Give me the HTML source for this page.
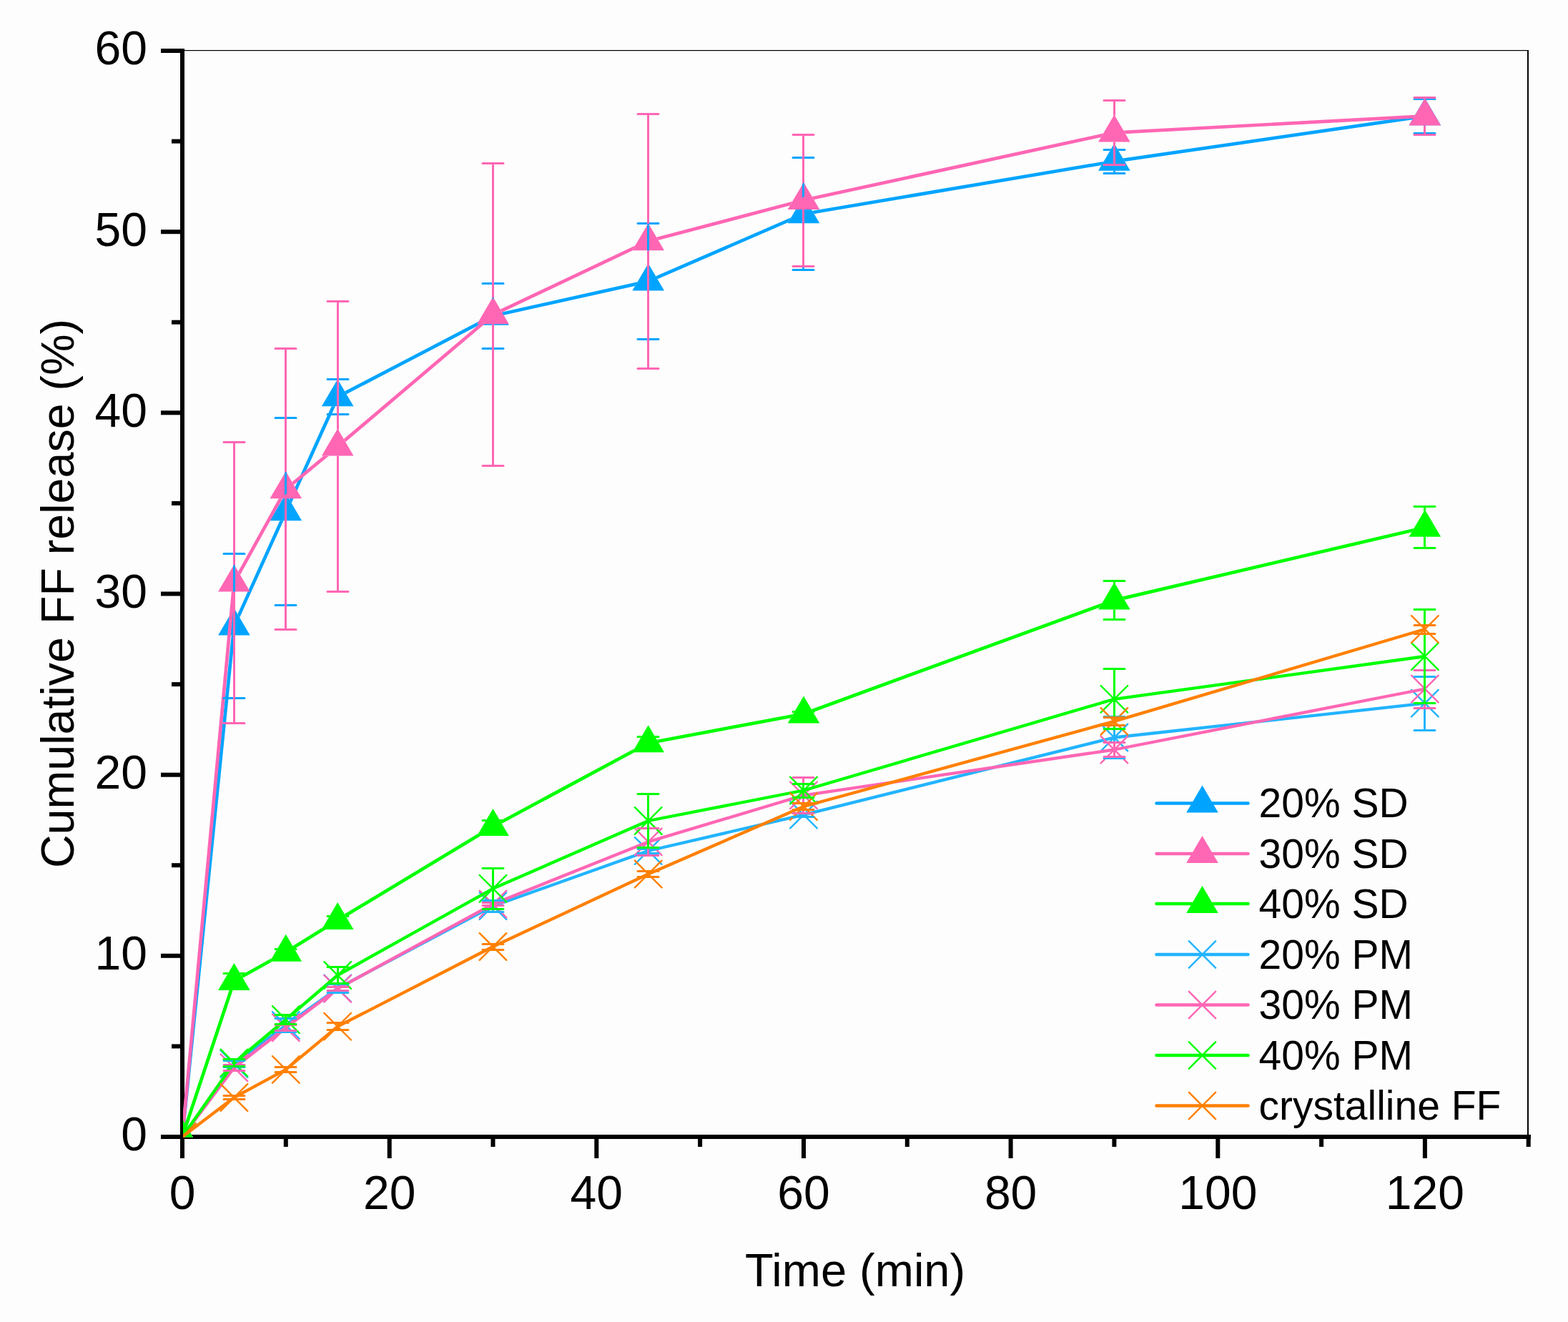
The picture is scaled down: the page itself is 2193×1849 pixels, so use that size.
<!DOCTYPE html>
<html><head><meta charset="utf-8"><title>Cumulative FF release</title>
<style>html,body{margin:0;padding:0;background:#fdfdfd;}svg{display:block}
text{font-family:"Liberation Sans",Arial,sans-serif;fill:#000}</style></head>
<body><svg width="2193" height="1849" viewBox="0 0 2193 1849">
<rect x="0" y="0" width="2193" height="1849" fill="#fdfdfd"/>
<defs><clipPath id="pa"><rect x="256" y="71" width="1880" height="1519.8"/></clipPath>
<mask id="m0" maskUnits="userSpaceOnUse" x="0" y="0" width="2193" height="1849"><rect x="0" y="0" width="2193" height="1849" fill="#fff"/><polygon points="327.4,850.4 349.7,888.4 305.1,888.4" fill="#000"/><polygon points="399.8,690.2 422.1,728.2 377.5,728.2" fill="#000"/><polygon points="472.2,530.2 494.5,568.2 449.9,568.2" fill="#000"/><polygon points="689.5,416.8 711.8,454.8 667.2,454.8" fill="#000"/><polygon points="906.7,368.4 929.0,406.4 884.4,406.4" fill="#000"/><polygon points="1124.0,274.2 1146.3,312.2 1101.7,312.2" fill="#000"/><polygon points="1558.4,200.7 1580.7,238.7 1536.1,238.7" fill="#000"/><polygon points="1992.9,137.3 2015.2,175.3 1970.6,175.3" fill="#000"/><polygon points="255.0,1565.0 277.3,1603.0 232.7,1603.0" fill="#000"/></mask>
<mask id="m1" maskUnits="userSpaceOnUse" x="0" y="0" width="2193" height="1849"><rect x="0" y="0" width="2193" height="1849" fill="#fff"/><polygon points="327.4,789.6 349.7,827.6 305.1,827.6" fill="#000"/><polygon points="399.8,659.2 422.1,697.2 377.5,697.2" fill="#000"/><polygon points="472.2,599.4 494.5,637.4 449.9,637.4" fill="#000"/><polygon points="689.5,415.2 711.8,453.2 667.2,453.2" fill="#000"/><polygon points="906.7,312.3 929.0,350.3 884.4,350.3" fill="#000"/><polygon points="1124.0,255.0 1146.3,293.0 1101.7,293.0" fill="#000"/><polygon points="1558.4,160.6 1580.7,198.6 1536.1,198.6" fill="#000"/><polygon points="1992.9,137.4 2015.2,175.4 1970.6,175.4" fill="#000"/><polygon points="255.0,1565.0 277.3,1603.0 232.7,1603.0" fill="#000"/></mask>
<mask id="m2" maskUnits="userSpaceOnUse" x="0" y="0" width="2193" height="1849"><rect x="0" y="0" width="2193" height="1849" fill="#fff"/><polygon points="327.4,1347.0 349.7,1385.0 305.1,1385.0" fill="#000"/><polygon points="399.8,1306.8 422.1,1344.8 377.5,1344.8" fill="#000"/><polygon points="472.2,1262.0 494.5,1300.0 449.9,1300.0" fill="#000"/><polygon points="689.5,1131.0 711.8,1169.0 667.2,1169.0" fill="#000"/><polygon points="906.7,1014.2 929.0,1052.2 884.4,1052.2" fill="#000"/><polygon points="1124.0,973.5 1146.3,1011.5 1101.7,1011.5" fill="#000"/><polygon points="1558.4,814.6 1580.7,852.6 1536.1,852.6" fill="#000"/><polygon points="1992.9,712.7 2015.2,750.7 1970.6,750.7" fill="#000"/><polygon points="255.0,1565.0 277.3,1603.0 232.7,1603.0" fill="#000"/></mask>
</defs>
<g fill="#000">
<rect x="252" y="68" width="6" height="1525"/>
<rect x="225" y="1587" width="1916" height="6"/>
<rect x="258" y="70" width="1880" height="1.2"/>
<rect x="2136" y="70" width="2" height="1517"/>
<rect x="225" y="1587.0" width="30" height="6"/>
<rect x="240" y="1460.4" width="15" height="6"/>
<rect x="225" y="1333.8" width="30" height="6"/>
<rect x="240" y="1207.2" width="15" height="6"/>
<rect x="225" y="1080.7" width="30" height="6"/>
<rect x="240" y="954.1" width="15" height="6"/>
<rect x="225" y="827.5" width="30" height="6"/>
<rect x="240" y="700.9" width="15" height="6"/>
<rect x="225" y="574.3" width="30" height="6"/>
<rect x="240" y="447.7" width="15" height="6"/>
<rect x="225" y="321.2" width="30" height="6"/>
<rect x="240" y="194.6" width="15" height="6"/>
<rect x="225" y="68.0" width="30" height="6"/>
<rect x="252.0" y="1590" width="6" height="30"/>
<rect x="396.8" y="1590" width="6" height="14"/>
<rect x="541.7" y="1590" width="6" height="30"/>
<rect x="686.5" y="1590" width="6" height="14"/>
<rect x="831.3" y="1590" width="6" height="30"/>
<rect x="976.1" y="1590" width="6" height="14"/>
<rect x="1121.0" y="1590" width="6" height="30"/>
<rect x="1265.8" y="1590" width="6" height="14"/>
<rect x="1410.6" y="1590" width="6" height="30"/>
<rect x="1555.4" y="1590" width="6" height="14"/>
<rect x="1700.3" y="1590" width="6" height="30"/>
<rect x="1845.1" y="1590" width="6" height="14"/>
<rect x="1989.9" y="1590" width="6" height="30"/>
<rect x="2134.7" y="1590" width="6" height="14"/>
</g>
<g clip-path="url(#pa)">
<path d="M255.0 1590.0L327.4 875.4L399.8 715.2L472.2 555.2L689.5 441.8L906.7 393.4L1124.0 299.2L1558.4 225.7L1992.9 162.3" stroke="#00a4ff" stroke-width="4.7" fill="none" stroke-linejoin="round" mask="url(#m0)"/>
<g fill="#00a4ff"><polygon points="255.0,1565.0 277.3,1603.0 232.7,1603.0"/><polygon points="327.4,850.4 349.7,888.4 305.1,888.4"/><polygon points="399.8,690.2 422.1,728.2 377.5,728.2"/><polygon points="472.2,530.2 494.5,568.2 449.9,568.2"/><polygon points="689.5,416.8 711.8,454.8 667.2,454.8"/><polygon points="906.7,368.4 929.0,406.4 884.4,406.4"/><polygon points="1124.0,274.2 1146.3,312.2 1101.7,312.2"/><polygon points="1558.4,200.7 1580.7,238.7 1536.1,238.7"/><polygon points="1992.9,137.3 2015.2,175.3 1970.6,175.3"/></g>
<path d="M255.0 1590.0L327.4 814.6L399.8 684.2L472.2 624.4L689.5 440.2L906.7 337.3L1124.0 280.0L1558.4 185.6L1992.9 162.4" stroke="#ff66b4" stroke-width="4.7" fill="none" stroke-linejoin="round" mask="url(#m1)"/>
<g fill="#ff66b4"><polygon points="255.0,1565.0 277.3,1603.0 232.7,1603.0"/><polygon points="327.4,789.6 349.7,827.6 305.1,827.6"/><polygon points="399.8,659.2 422.1,697.2 377.5,697.2"/><polygon points="472.2,599.4 494.5,637.4 449.9,637.4"/><polygon points="689.5,415.2 711.8,453.2 667.2,453.2"/><polygon points="906.7,312.3 929.0,350.3 884.4,350.3"/><polygon points="1124.0,255.0 1146.3,293.0 1101.7,293.0"/><polygon points="1558.4,160.6 1580.7,198.6 1536.1,198.6"/><polygon points="1992.9,137.4 2015.2,175.4 1970.6,175.4"/></g>
<path d="M255.0 1590.0L327.4 1372.0L399.8 1331.8L472.2 1287.0L689.5 1156.0L906.7 1039.2L1124.0 998.5L1558.4 839.6L1992.9 737.7" stroke="#00ff00" stroke-width="4.7" fill="none" stroke-linejoin="round" mask="url(#m2)"/>
<g fill="#00ff00"><polygon points="255.0,1565.0 277.3,1603.0 232.7,1603.0"/><polygon points="327.4,1347.0 349.7,1385.0 305.1,1385.0"/><polygon points="399.8,1306.8 422.1,1344.8 377.5,1344.8"/><polygon points="472.2,1262.0 494.5,1300.0 449.9,1300.0"/><polygon points="689.5,1131.0 711.8,1169.0 667.2,1169.0"/><polygon points="906.7,1014.2 929.0,1052.2 884.4,1052.2"/><polygon points="1124.0,973.5 1146.3,1011.5 1101.7,1011.5"/><polygon points="1558.4,814.6 1580.7,852.6 1536.1,852.6"/><polygon points="1992.9,712.7 2015.2,750.7 1970.6,750.7"/></g>
<path d="M255.0 1590.0L327.4 1488.0L399.8 1434.0L472.2 1382.3L689.5 1267.2L906.7 1190.0L1124.0 1139.6L1558.4 1031.5L1992.9 983.6" stroke="#22b4ff" stroke-width="4.3" fill="none" stroke-linejoin="round"/>
<path d="M236.2 1571.2L273.8 1608.8M236.2 1608.8L273.8 1571.2M308.6 1469.2L346.2 1506.8M308.6 1506.8L346.2 1469.2M381.0 1415.2L418.6 1452.8M381.0 1452.8L418.6 1415.2M453.4 1363.5L491.0 1401.1M453.4 1401.1L491.0 1363.5M670.7 1248.4L708.3 1286.0M670.7 1286.0L708.3 1248.4M887.9 1171.2L925.5 1208.8M887.9 1208.8L925.5 1171.2M1105.2 1120.8L1142.8 1158.4M1105.2 1158.4L1142.8 1120.8M1539.6 1012.7L1577.2 1050.3M1539.6 1050.3L1577.2 1012.7M1974.1 964.8L2011.7 1002.4M1974.1 1002.4L2011.7 964.8" stroke="#22b4ff" stroke-width="2.4" stroke-linecap="round" fill="none"/>
<path d="M255.0 1590.0L327.4 1493.3L399.8 1437.3L472.2 1382.8L689.5 1264.5L906.7 1177.4L1124.0 1112.3L1558.4 1048.5L1992.9 963.5" stroke="#ff66b4" stroke-width="4.3" fill="none" stroke-linejoin="round"/>
<path d="M236.2 1571.2L273.8 1608.8M236.2 1608.8L273.8 1571.2M308.6 1474.5L346.2 1512.1M308.6 1512.1L346.2 1474.5M381.0 1418.5L418.6 1456.1M381.0 1456.1L418.6 1418.5M453.4 1364.0L491.0 1401.6M453.4 1401.6L491.0 1364.0M670.7 1245.7L708.3 1283.3M670.7 1283.3L708.3 1245.7M887.9 1158.6L925.5 1196.2M887.9 1196.2L925.5 1158.6M1105.2 1093.5L1142.8 1131.1M1105.2 1131.1L1142.8 1093.5M1539.6 1029.7L1577.2 1067.3M1539.6 1067.3L1577.2 1029.7M1974.1 944.7L2011.7 982.3M1974.1 982.3L2011.7 944.7" stroke="#ff66b4" stroke-width="2.4" stroke-linecap="round" fill="none"/>
<path d="M255.0 1590.0L327.4 1486.5L399.8 1426.0L472.2 1364.0L689.5 1242.8L906.7 1148.0L1124.0 1105.5L1558.4 977.8L1992.9 918.0" stroke="#00ff00" stroke-width="4.3" fill="none" stroke-linejoin="round"/>
<path d="M236.2 1571.2L273.8 1608.8M236.2 1608.8L273.8 1571.2M308.6 1467.7L346.2 1505.3M308.6 1505.3L346.2 1467.7M381.0 1407.2L418.6 1444.8M381.0 1444.8L418.6 1407.2M453.4 1345.2L491.0 1382.8M453.4 1382.8L491.0 1345.2M670.7 1224.0L708.3 1261.6M670.7 1261.6L708.3 1224.0M887.9 1129.2L925.5 1166.8M887.9 1166.8L925.5 1129.2M1105.2 1086.7L1142.8 1124.3M1105.2 1124.3L1142.8 1086.7M1539.6 959.0L1577.2 996.6M1539.6 996.6L1577.2 959.0M1974.1 899.2L2011.7 936.8M1974.1 936.8L2011.7 899.2" stroke="#00ff00" stroke-width="2.4" stroke-linecap="round" fill="none"/>
<path d="M255.0 1590.0L327.4 1535.0L399.8 1495.9L472.2 1435.7L689.5 1324.0L906.7 1222.5L1124.0 1128.0L1558.4 1008.9L1992.9 880.0" stroke="#ff8000" stroke-width="4.3" fill="none" stroke-linejoin="round"/>
<path d="M236.2 1571.2L273.8 1608.8M236.2 1608.8L273.8 1571.2M308.6 1516.2L346.2 1553.8M308.6 1553.8L346.2 1516.2M381.0 1477.1L418.6 1514.7M381.0 1514.7L418.6 1477.1M453.4 1416.9L491.0 1454.5M453.4 1454.5L491.0 1416.9M670.7 1305.2L708.3 1342.8M670.7 1342.8L708.3 1305.2M887.9 1203.7L925.5 1241.3M887.9 1241.3L925.5 1203.7M1105.2 1109.2L1142.8 1146.8M1105.2 1146.8L1142.8 1109.2M1539.6 990.1L1577.2 1027.7M1539.6 1027.7L1577.2 990.1M1974.1 861.2L2011.7 898.8M1974.1 898.8L2011.7 861.2" stroke="#ff8000" stroke-width="2.4" stroke-linecap="round" fill="none"/>
<path d="M327.5 774.5V976.5M313.0 774.5H342.0M313.0 976.5H342.0M399.5 584.5V846.5M385.0 584.5H414.0M385.0 846.5H414.0M472.5 530.5V579.5M458.0 530.5H487.0M458.0 579.5H487.0M689.5 396.5V487.5M675.0 396.5H704.0M675.0 487.5H704.0M906.5 312.5V474.5M892.0 312.5H921.0M892.0 474.5H921.0M1123.5 220.5V377.5M1109.0 220.5H1138.0M1109.0 377.5H1138.0M1558.5 209.5V242.5M1544.0 209.5H1573.0M1544.0 242.5H1573.0M1992.5 138.5V186.5M1978.0 138.5H2007.0M1978.0 186.5H2007.0" stroke="#00a4ff" stroke-width="3" stroke-linecap="round" fill="none" mask="url(#m0)"/>
<path d="M327.5 618.5V1011.5M313.0 618.5H342.0M313.0 1011.5H342.0M399.5 487.5V880.5M385.0 487.5H414.0M385.0 880.5H414.0M472.5 421.5V827.5M458.0 421.5H487.0M458.0 827.5H487.0M689.5 228.5V651.5M675.0 228.5H704.0M675.0 651.5H704.0M906.5 159.5V515.5M892.0 159.5H921.0M892.0 515.5H921.0M1123.5 188.5V372.5M1109.0 188.5H1138.0M1109.0 372.5H1138.0M1558.5 140.5V230.5M1544.0 140.5H1573.0M1544.0 230.5H1573.0M1992.5 136.5V188.5M1978.0 136.5H2007.0M1978.0 188.5H2007.0" stroke="#ff66b4" stroke-width="3" stroke-linecap="round" fill="none" mask="url(#m1)"/>
<path d="M327.5 1361.5V1382.5M313.0 1361.5H342.0M313.0 1382.5H342.0M399.5 1327.5V1335.5M385.0 1327.5H414.0M385.0 1335.5H414.0M472.5 1281.5V1293.5M458.0 1281.5H487.0M458.0 1293.5H487.0M689.5 1147.5V1164.5M675.0 1147.5H704.0M675.0 1164.5H704.0M906.5 1030.5V1048.5M892.0 1030.5H921.0M892.0 1048.5H921.0M1123.5 995.5V1002.5M1109.0 995.5H1138.0M1109.0 1002.5H1138.0M1558.5 812.5V866.5M1544.0 812.5H1573.0M1544.0 866.5H1573.0M1992.5 708.5V766.5M1978.0 708.5H2007.0M1978.0 766.5H2007.0" stroke="#00ff00" stroke-width="3" stroke-linecap="round" fill="none" mask="url(#m2)"/>
<path d="M327.5 1483.5V1492.5M313.0 1483.5H342.0M313.0 1492.5H342.0M399.5 1424.5V1443.5M385.0 1424.5H414.0M385.0 1443.5H414.0M472.5 1376.5V1388.5M458.0 1376.5H487.0M458.0 1388.5H487.0M689.5 1259.5V1275.5M675.0 1259.5H704.0M675.0 1275.5H704.0M906.5 1187.5V1193.5M892.0 1187.5H921.0M892.0 1193.5H921.0M1123.5 1137.5V1142.5M1109.0 1137.5H1138.0M1109.0 1142.5H1138.0M1558.5 1002.5V1060.5M1544.0 1002.5H1573.0M1544.0 1060.5H1573.0M1992.5 946.5V1021.5M1978.0 946.5H2007.0M1978.0 1021.5H2007.0" stroke="#22b4ff" stroke-width="3" stroke-linecap="round" fill="none"/>
<path d="M327.5 1489.5V1497.5M313.0 1489.5H342.0M313.0 1497.5H342.0M399.5 1433.5V1441.5M385.0 1433.5H414.0M385.0 1441.5H414.0M472.5 1380.5V1385.5M458.0 1380.5H487.0M458.0 1385.5H487.0M689.5 1262.5V1266.5M675.0 1262.5H704.0M675.0 1266.5H704.0M906.5 1158.5V1196.5M892.0 1158.5H921.0M892.0 1196.5H921.0M1123.5 1087.5V1137.5M1109.0 1087.5H1138.0M1109.0 1137.5H1138.0M1558.5 1038.5V1058.5M1544.0 1038.5H1573.0M1544.0 1058.5H1573.0M1992.5 937.5V990.5M1978.0 937.5H2007.0M1978.0 990.5H2007.0" stroke="#ff66b4" stroke-width="3" stroke-linecap="round" fill="none"/>
<path d="M327.5 1481.5V1491.5M313.0 1481.5H342.0M313.0 1491.5H342.0M399.5 1419.5V1432.5M385.0 1419.5H414.0M385.0 1432.5H414.0M472.5 1352.5V1375.5M458.0 1352.5H487.0M458.0 1375.5H487.0M689.5 1214.5V1271.5M675.0 1214.5H704.0M675.0 1271.5H704.0M906.5 1110.5V1185.5M892.0 1110.5H921.0M892.0 1185.5H921.0M1123.5 1096.5V1115.5M1109.0 1096.5H1138.0M1109.0 1115.5H1138.0M1558.5 935.5V1019.5M1544.0 935.5H1573.0M1544.0 1019.5H1573.0M1992.5 852.5V983.5M1978.0 852.5H2007.0M1978.0 983.5H2007.0" stroke="#00ff00" stroke-width="3" stroke-linecap="round" fill="none"/>
<path d="M327.5 1532.5V1537.5M313.0 1532.5H342.0M313.0 1537.5H342.0M399.5 1492.5V1499.5M385.0 1492.5H414.0M385.0 1499.5H414.0M472.5 1430.5V1440.5M458.0 1430.5H487.0M458.0 1440.5H487.0M689.5 1320.5V1328.5M675.0 1320.5H704.0M675.0 1328.5H704.0M906.5 1218.5V1226.5M892.0 1218.5H921.0M892.0 1226.5H921.0M1123.5 1123.5V1132.5M1109.0 1123.5H1138.0M1109.0 1132.5H1138.0M1558.5 1003.5V1014.5M1544.0 1003.5H1573.0M1544.0 1014.5H1573.0M1992.5 874.5V886.5M1978.0 874.5H2007.0M1978.0 886.5H2007.0" stroke="#ff8000" stroke-width="3" stroke-linecap="round" fill="none"/>
</g>
<g font-size="66">
<text x="206" y="1609.3" text-anchor="end">0</text>
<text x="206" y="1356.1" text-anchor="end">10</text>
<text x="206" y="1103.0" text-anchor="end">20</text>
<text x="206" y="849.8" text-anchor="end">30</text>
<text x="206" y="596.6" text-anchor="end">40</text>
<text x="206" y="343.5" text-anchor="end">50</text>
<text x="206" y="90.3" text-anchor="end">60</text>
<text x="255.0" y="1690.5" text-anchor="middle">0</text>
<text x="544.7" y="1690.5" text-anchor="middle">20</text>
<text x="834.3" y="1690.5" text-anchor="middle">40</text>
<text x="1124.0" y="1690.5" text-anchor="middle">60</text>
<text x="1413.6" y="1690.5" text-anchor="middle">80</text>
<text x="1703.3" y="1690.5" text-anchor="middle">100</text>
<text x="1992.9" y="1690.5" text-anchor="middle">120</text>
</g>
<text x="1042" y="1799.3" font-size="65">Time (min)</text>
<text transform="translate(103 830) rotate(-90)" x="0" y="0" text-anchor="middle" font-size="64.6">Cumulative FF release (%)</text>
<path d="M1617.5 1123.5H1745.5" stroke="#00a4ff" stroke-width="4.6" stroke-linecap="round"/>
<polygon points="1681.5,1098.5 1703.8,1136.5 1659.2,1136.5" fill="#00a4ff"/>
<text x="1760.5" y="1143.0" font-size="57">20% SD</text>
<path d="M1617.5 1194.0H1745.5" stroke="#ff66b4" stroke-width="4.6" stroke-linecap="round"/>
<polygon points="1681.5,1169.0 1703.8,1207.0 1659.2,1207.0" fill="#ff66b4"/>
<text x="1760.5" y="1213.5" font-size="57">30% SD</text>
<path d="M1617.5 1264.0H1745.5" stroke="#00ff00" stroke-width="4.6" stroke-linecap="round"/>
<polygon points="1681.5,1239.0 1703.8,1277.0 1659.2,1277.0" fill="#00ff00"/>
<text x="1760.5" y="1283.5" font-size="57">40% SD</text>
<path d="M1617.5 1335.0H1745.5" stroke="#22b4ff" stroke-width="4.6" stroke-linecap="round"/>
<path d="M1662.2 1315.7L1700.8 1354.3M1662.2 1354.3L1700.8 1315.7" stroke="#22b4ff" stroke-width="2.4" fill="none"/>
<text x="1760.5" y="1354.5" font-size="57">20% PM</text>
<path d="M1617.5 1405.5H1745.5" stroke="#ff66b4" stroke-width="4.6" stroke-linecap="round"/>
<path d="M1662.2 1386.2L1700.8 1424.8M1662.2 1424.8L1700.8 1386.2" stroke="#ff66b4" stroke-width="2.4" fill="none"/>
<text x="1760.5" y="1425.0" font-size="57">30% PM</text>
<path d="M1617.5 1476.0H1745.5" stroke="#00ff00" stroke-width="4.6" stroke-linecap="round"/>
<path d="M1662.2 1456.7L1700.8 1495.3M1662.2 1495.3L1700.8 1456.7" stroke="#00ff00" stroke-width="2.4" fill="none"/>
<text x="1760.5" y="1495.5" font-size="57">40% PM</text>
<path d="M1617.5 1546.5H1745.5" stroke="#ff8000" stroke-width="4.6" stroke-linecap="round"/>
<path d="M1662.2 1527.2L1700.8 1565.8M1662.2 1565.8L1700.8 1527.2" stroke="#ff8000" stroke-width="2.4" fill="none"/>
<text x="1760.5" y="1566.0" font-size="57">crystalline FF</text>
</svg></body></html>
